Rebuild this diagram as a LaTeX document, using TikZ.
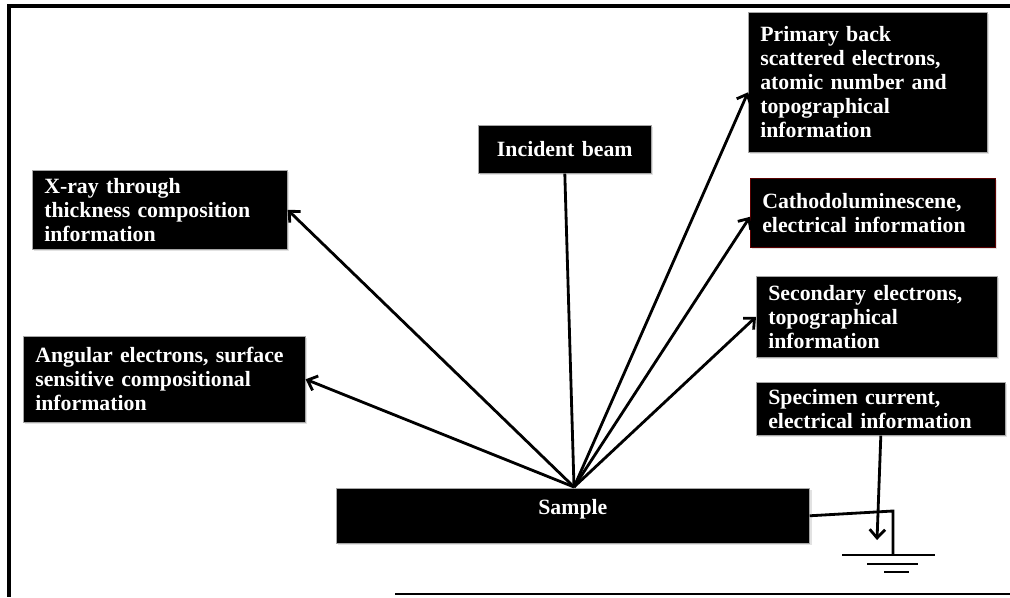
\documentclass[tikz,border=0pt]{standalone}
\usepackage{fontspec}
\setmainfont{Liberation Serif}
\usetikzlibrary{arrows.meta,shadows}

\tikzset{
  infobox/.style={fill=black, draw=gray!70, thin, text=white, anchor=north west,
    inner xsep=0.3cm, inner ysep=0pt, align=left,
    font=\bfseries\fontsize{15.5}{17}\selectfont,
    drop shadow={shadow xshift=1.5pt, shadow yshift=-1.5pt, fill=gray!45}},
  ray/.style={line width=2pt, -{Straight Barb[length=6pt,width=11pt,line width=2pt]}},
  wire/.style={line width=2pt}
}

\begin{document}
\begin{tikzpicture}[x=0.025cm, y=-0.025cm]
\useasboundingbox (0,0) rectangle (1010,597);
\draw[line width=2.8pt] (1010,6) -- (9,6) -- (9,597);
\draw[line width=2pt] (395,594) -- (1010,594);

\node[infobox, text width=5.375cm, minimum height=3.5cm] (primary) at (748,12)
  {Primary back\\scattered electrons,\\atomic number and\\topographical\\information};
\node[infobox, align=center, text width=3.725cm, minimum height=1.2cm] (incident) at (478,125)
  {Incident beam};
\node[infobox, text width=5.775cm, minimum height=1.975cm] (xray) at (32,170)
  {X-ray through\\thickness composition\\information};
\node[infobox, draw=red!35!black, text width=5.525cm, minimum height=1.725cm] (cathodo) at (750,178)
  {Cathodoluminescene,\\electrical information};
\node[infobox, text width=5.425cm, minimum height=2.025cm] (secondary) at (756,276)
  {Secondary electrons,\\topographical\\information};
\node[infobox, text width=6.45cm, minimum height=2.15cm] (angular) at (23,336)
  {Angular electrons, surface\\sensitive compositional\\information};
\node[infobox, text width=5.625cm, minimum height=1.325cm] (specimen) at (756,382)
  {Specimen current,\\electrical information};
\node[infobox, align=center, minimum width=11.825cm, minimum height=1.375cm] (sample) at (336,488)
  {Sample\\[-9pt]\strut};

\coordinate (hit) at (574,487);
\coordinate (drain) at (877,540);
\coordinate (bend) at (893,511);
\coordinate (gnd) at (893,555);

\path[wire] (incident.south) edge (hit);
\path[ray] (hit) edge (xray.east);
\path[ray] (hit) edge (angular.east);
\path[ray] (hit) edge ([yshift=-0.25cm]primary.west);
\path[ray] (hit) edge ([yshift=-0.1cm]cathodo.west);
\path[ray] (hit) edge (secondary.west);
\path[ray] (specimen.south) edge (drain);

% ground
\draw[wire] (sample.east) -- (bend) -- (gnd);
\draw[wire] ([shift={(-51,0)}]gnd) -- ([shift={(42,0)}]gnd);
\draw[wire] ([shift={(-26,9)}]gnd) -- ([shift={(25,9)}]gnd);
\draw[wire] ([shift={(-9,17)}]gnd) -- ([shift={(16,17)}]gnd);
\end{tikzpicture}
\end{document}
